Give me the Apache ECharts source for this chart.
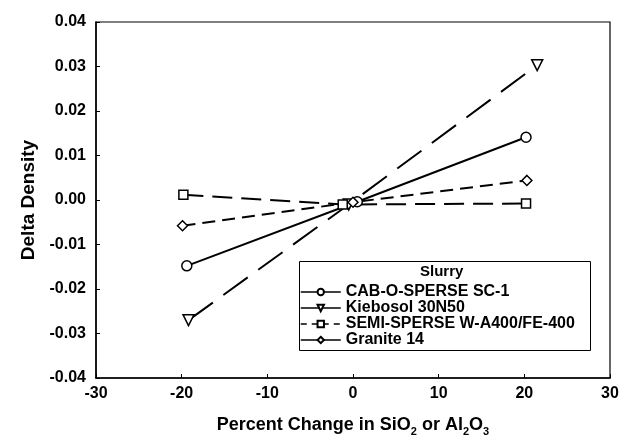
<!DOCTYPE html>
<html>
<head>
<meta charset="utf-8">
<script src="https://cdn.jsdelivr.net/npm/echarts@6/dist/echarts.min.js"></script>
<style>
  html, body { margin: 0; padding: 0; background: #fff; }
  #chart { width: 626px; height: 442px; }
</style>
</head>
<body>
<div id="chart"></div>
<script>
// 各浆料的密度变化 (x: 百分比变化, y: Delta Density)
const seriesNames = ['CAB-O-SPERSE SC-1', 'Kiebosol 30N50', 'SEMI-SPERSE W-A400/FE-400', 'Granite 14'];
const cabPoints = [[-19.4, -0.0148], [0.5, -0.0004], [20.2, 0.0141]];
const kiebosolPoints = [[-19.2, -0.0270], [-0.5, -0.0010], [21.5, 0.0303]];
const semiPoints = [[-19.8, 0.0012], [-1.2, -0.0010], [20.2, -0.0008]];
const granitePoints = [[-19.9, -0.0058], [0.0, -0.0005], [20.3, 0.0044]];
const xTicks = [-30, -20, -10, 0, 10, 20, 30];
const yTicks = [-0.04, -0.03, -0.02, -0.01, 0.00, 0.01, 0.02, 0.03, 0.04];

const FONT = '"Liberation Sans", Arial, sans-serif';
const dashes = ['solid', [30, 13], [20, 9], [13, 7]];
const legendDashes = ['solid', 'solid', [6, 5], 'solid'];
const symbols = ['circle', 'triangle', 'rect', 'diamond'];

function lineSeries(i, data) {
  const symbol = symbols[i];
  return {
    name: seriesNames[i],
    type: 'line',
    data: data,
    symbol: symbol,
    symbolSize: symbol === 'triangle' ? 11 : (symbol === 'rect' ? 9 : 10),
    symbolRotate: symbol === 'triangle' ? 180 : 0,
    showSymbol: true,
    itemStyle: { color: '#fff', borderColor: '#000', borderWidth: 1.5 },
    lineStyle: { color: '#000', width: 2, type: dashes[i] },
    emphasis: { disabled: true },
    z: 3,
  };
}

const chart = echarts.init(document.getElementById('chart'));
chart.setOption({
  animation: false,
  grid: { left: 96, right: 16, top: 22, bottom: 64, show: true, borderColor: '#000', borderWidth: 1.2 },
  xAxis: {
    type: 'value',
    min: xTicks[0],
    max: xTicks[xTicks.length - 1],
    interval: 10,
    axisLine: { onZero: false, lineStyle: { color: '#000', width: 1.5 } },
    axisTick: { inside: true, length: 4, lineStyle: { color: '#000' } },
    splitLine: { show: false },
    axisLabel: { color: '#000', fontFamily: FONT, fontWeight: 'bold', fontSize: 16, margin: 8 },
    name: '{a|Percent Change in SiO}{s|2}{a| or Al}{s|2}{a|O}{s|3}',
    nameLocation: 'middle',
    nameGap: 36,
    nameTextStyle: {
      rich: {
        a: { fontFamily: FONT, fontWeight: 'bold', fontSize: 18, color: '#000' },
        s: { fontFamily: FONT, fontWeight: 'bold', fontSize: 11, color: '#000', padding: [12, 0, 0, 0] },
      },
    },
  },
  yAxis: {
    type: 'value',
    min: yTicks[0],
    max: yTicks[yTicks.length - 1],
    interval: 0.01,
    axisLine: { show: true, onZero: false, lineStyle: { color: '#000', width: 1.5 } },
    axisTick: { show: true, inside: true, length: 4, lineStyle: { color: '#000' } },
    splitLine: { show: false },
    axisLabel: {
      color: '#000', fontFamily: FONT, fontWeight: 'bold', fontSize: 16, margin: 10,
      formatter: v => v.toFixed(2),
    },
    name: 'Delta Density',
    nameLocation: 'middle',
    nameGap: 56,
    nameTextStyle: { color: '#000', fontFamily: FONT, fontWeight: 'bold', fontSize: 19 },
  },
  legend: {
    data: seriesNames.map((n, i) => ({
      name: n,
      lineStyle: { color: '#000', width: 1.5, type: legendDashes[i] },
    })),
    orient: 'vertical',
    left: 300,
    top: 284,
    padding: 0,
    itemWidth: 40,
    itemHeight: 8,
    itemGap: 0,
    selectedMode: false,
    textStyle: { color: '#000', fontFamily: FONT, fontWeight: 'bold', fontSize: 16, lineHeight: 15.6 },
  },
  graphic: [
    { type: 'rect', left: 299, top: 261, z: 1,
      shape: { width: 291, height: 89 },
      style: { fill: '#fff', stroke: '#000', lineWidth: 1 } },
    { type: 'text', left: 420, top: 264, z: 2,
      style: { text: 'Slurry', fill: '#000', font: 'bold 15px ' + FONT } },
  ],
  series: [
    lineSeries(0, cabPoints),
    lineSeries(1, kiebosolPoints),
    lineSeries(2, semiPoints),
    lineSeries(3, granitePoints),
  ],
});
</script>
</body>
</html>
